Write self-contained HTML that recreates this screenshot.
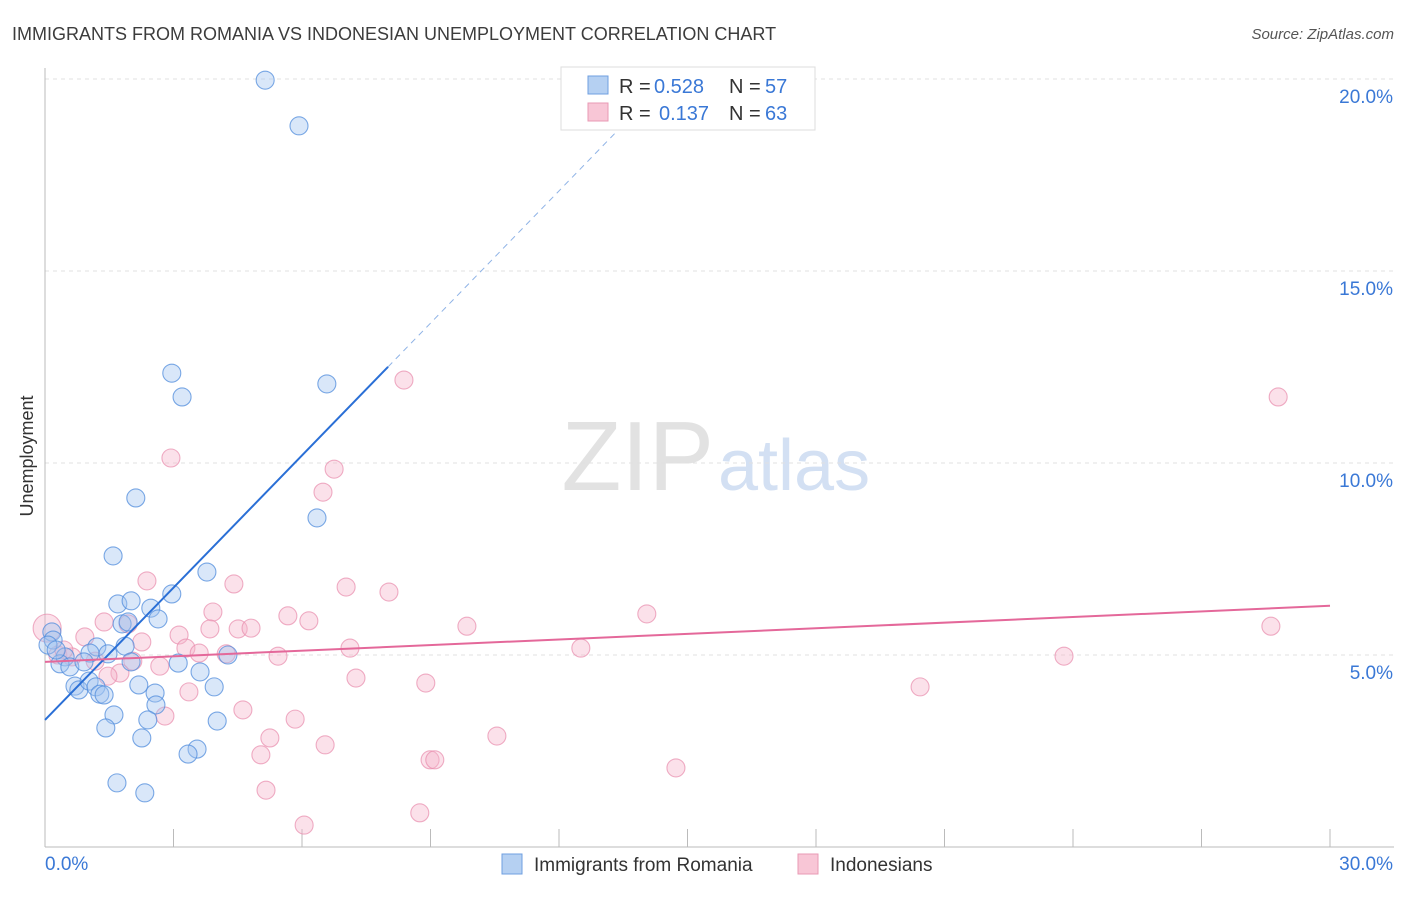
<!DOCTYPE html>
<html><head><meta charset="utf-8"><style>
body{margin:0;background:#fff;font-family:"Liberation Sans",sans-serif;}
svg text{font-family:"Liberation Sans",sans-serif;}
</style></head><body>
<svg id="chart" width="1406" height="892" xmlns="http://www.w3.org/2000/svg">
<text x="12" y="40" font-size="18" fill="#3c3c3c">IMMIGRANTS FROM ROMANIA VS INDONESIAN UNEMPLOYMENT CORRELATION CHART</text>
<text x="1394" y="39" font-size="15" fill="#555" font-style="italic" text-anchor="end">Source: ZipAtlas.com</text>
<text x="33" y="456" font-size="18" fill="#333" transform="rotate(-90 33 456)" text-anchor="middle">Unemployment</text>
<text x="714" y="490" font-size="98" fill="#e2e2e2" text-anchor="end" font-family="Liberation Serif">ZIP</text>
<text x="718" y="490" font-size="72" fill="#d3e0f3">atlas</text>
<g id="grid"></g><g id="axes"></g><g id="pinkpts"></g><g id="bluepts"></g><g id="lines"></g>
<g>
<rect x="561" y="67" width="254" height="63" fill="#fff" stroke="#ddd"/>
<rect x="588" y="76" width="20" height="18" fill="#b5d0f2" stroke="#6f9fe0"/>
<rect x="588" y="103" width="20" height="18" fill="#f8c6d6" stroke="#e99ab4"/>
<text x="619" y="93" font-size="20" fill="#333">R =</text>
<text x="654" y="93" font-size="20" fill="#3a78d6">0.528</text>
<text x="729" y="93" font-size="20" fill="#333">N =</text>
<text x="765" y="93" font-size="20" fill="#3a78d6">57</text>
<text x="619" y="120" font-size="20" fill="#333">R =</text>
<text x="659" y="120" font-size="20" fill="#3a78d6">0.137</text>
<text x="729" y="120" font-size="20" fill="#333">N =</text>
<text x="765" y="120" font-size="20" fill="#3a78d6">63</text>
</g>
<g>
<rect x="502" y="854" width="20" height="20" fill="#b5d0f2" stroke="#6f9fe0"/>
<text x="534" y="871" font-size="19" fill="#333">Immigrants from Romania</text>
<rect x="798" y="854" width="20" height="20" fill="#f8c6d6" stroke="#e99ab4"/>
<text x="830" y="871" font-size="19" fill="#333">Indonesians</text>
</g>
</svg>
<script>
const yTicks=[5,10,15,20];
const xTickLabels=["0.0%","30.0%"];
const blueX=[5.14,5.93,2.96,3.20,6.58,2.12,6.35,1.59,3.78,2.96,1.70,2.01,2.47,2.64,1.80,1.94,0.16,0.19,1.21,1.87,1.47,1.05,0.47,0.35,0.58,3.11,2.01,0.91,3.62,0.70,0.79,1.03,1.19,1.28,1.38,2.19,2.57,3.95,2.59,1.61,2.40,4.02,1.42,2.26,3.55,3.34,1.68,2.33,0.07,0.26,4.27];
const blueY=[19.97,18.78,12.34,11.72,12.06,9.09,8.57,7.58,7.16,6.59,6.33,6.41,6.22,5.94,5.81,5.86,5.60,5.39,5.21,5.23,5.03,5.05,4.95,4.77,4.69,4.79,4.82,4.82,4.56,4.19,4.09,4.32,4.17,3.98,3.96,4.22,4.01,4.17,3.70,3.44,3.31,3.28,3.10,2.84,2.55,2.42,1.67,1.41,5.26,5.13,5.00];
const pinkX=[8.38,28.79,2.94,6.75,6.49,2.38,4.41,7.03,8.03,14.05,3.92,5.67,6.16,1.38,4.51,4.81,3.85,9.85,28.62,3.13,0.93,2.26,1.94,7.12,12.51,3.29,3.60,4.23,5.44,23.79,1.17,2.05,2.68,1.75,1.47,7.26,8.89,3.36,20.43,4.62,2.80,5.84,5.25,10.55,6.54,5.04,8.99,9.10,14.73,5.16,8.75,6.05,0.05,0.30,0.63,0.44];
const pinkY=[12.16,11.72,10.13,9.84,9.24,6.93,6.85,6.77,6.64,6.07,6.12,6.02,5.89,5.86,5.68,5.70,5.68,5.75,5.75,5.52,5.47,5.34,5.81,5.18,5.18,5.18,5.05,5.03,4.97,4.97,4.84,4.84,4.71,4.53,4.45,4.40,4.27,4.04,4.17,3.57,3.41,3.33,2.84,2.89,2.66,2.40,2.27,2.27,2.06,1.48,0.89,0.57,5.70,5.00,4.95,5.13];
const blueTrend=[3.31,1.148];
const pinkTrend=[4.82,0.0487];
const NS="http://www.w3.org/2000/svg";
const sx=v=>45+v/30*1285, sy=v=>847-v/5*192;
function mk(tag,attrs,parent){const e=document.createElementNS(NS,tag);for(const k in attrs)e.setAttribute(k,attrs[k]);document.getElementById(parent).appendChild(e);return e;}
yTicks.forEach(t=>{
 const l=mk('line',{x1:45,x2:1394,y1:sy(t),y2:sy(t),stroke:'#e0e0e0','stroke-dasharray':'4,4'},'grid');
 
 
 const tx=mk('text',{x:1393,y:sy(t)+24,'font-size':19,fill:'#3a78d6','text-anchor':'end'},'grid');
 tx.textContent=t.toFixed(1)+'%';
 
 
});
const ax=mk('line',{x1:45,x2:45,y1:68,y2:847,stroke:'#bbb'},'axes');


const bx=mk('line',{x1:45,x2:1394,y1:847,y2:847,stroke:'#bbb'},'axes');


for(let i=1;i<=10;i++){const l=mk('line',{x1:sx(i*3),x2:sx(i*3),y1:829,y2:847,stroke:'#bbb'},'axes');
 
 }
xTickLabels.forEach((s,i)=>{const t=mk('text',{x:i?1393:45,y:870,'font-size':19,fill:'#3a78d6','text-anchor':i?'end':'start'},'axes');t.textContent=s;
 
 });
pinkX.forEach((x,i)=>{const c=mk('circle',{cx:sx(x),cy:sy(pinkY[i]),r:i==52?14:9,fill:'rgba(246,180,202,0.4)',stroke:'rgba(232,140,172,0.7)','stroke-width':1.1},'pinkpts');
 
 });
blueX.forEach((x,i)=>{const c=mk('circle',{cx:sx(x),cy:sy(blueY[i]),r:9,fill:'rgba(160,196,240,0.4)',stroke:'rgba(80,140,220,0.75)','stroke-width':1.1},'bluepts');
 
 });
const bl=mk('line',{x1:sx(0),y1:sy(blueTrend[0]),x2:sx(8.01),y2:sy(blueTrend[0]+blueTrend[1]*8.01),stroke:'#2a6fd6','stroke-width':2},'lines');


const bd=mk('line',{x1:sx(8.01),y1:sy(blueTrend[0]+blueTrend[1]*8.01),x2:sx(13.9),y2:sy(blueTrend[0]+blueTrend[1]*13.9),stroke:'#8fb3e6','stroke-width':1,'stroke-dasharray':'6,5'},'lines');


const pl=mk('line',{x1:sx(0),y1:sy(pinkTrend[0]),x2:sx(30),y2:sy(pinkTrend[0]+pinkTrend[1]*30),stroke:'#e4689a','stroke-width':2},'lines');


</script>
</body></html>
